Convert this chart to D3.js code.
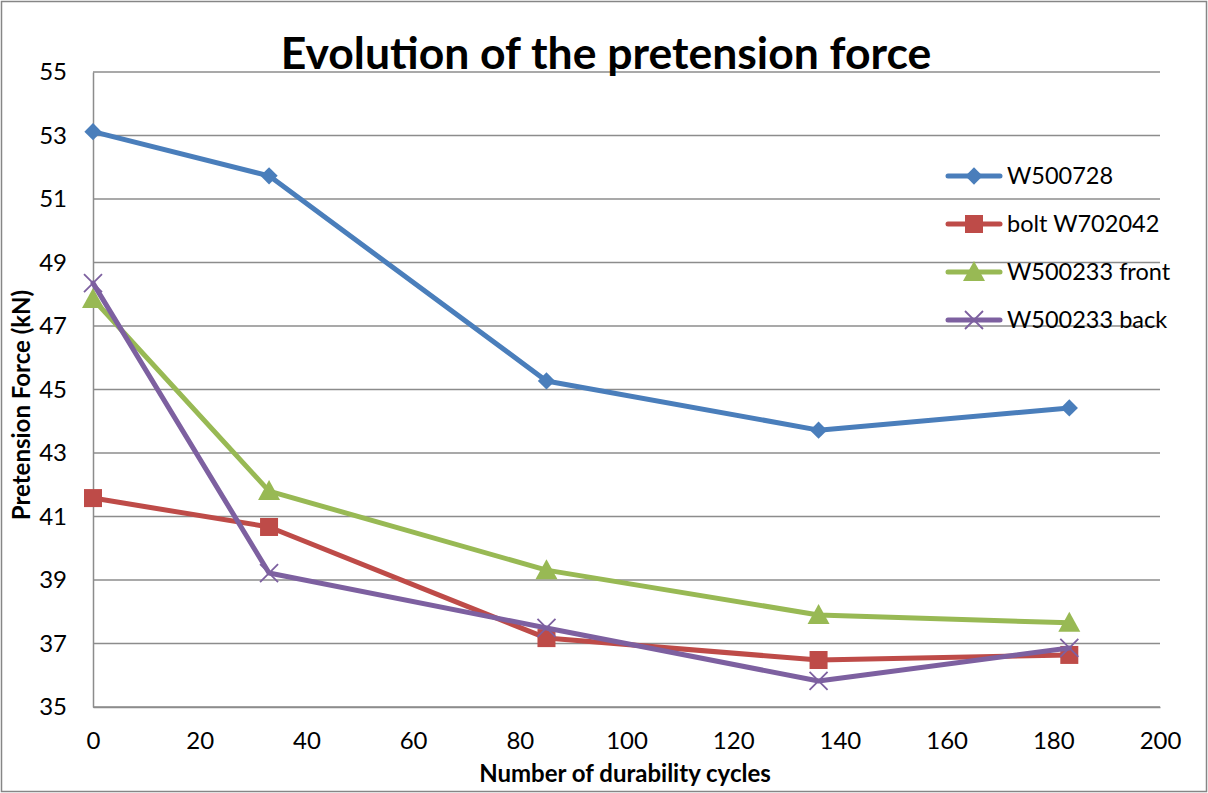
<!DOCTYPE html>
<html>
<head>
<meta charset="utf-8">
<script src="https://cdn.jsdelivr.net/npm/d3@7"></script>
<style>
  html, body { margin: 0; padding: 0; background: #fff; }
  svg { display: block; font-family: Lato, "Open Sans", sans-serif; }
</style>
</head>
<body>
<svg id="chart" width="1208" height="793"></svg>
<script>
// Durability test: pretension force after N cycles
const cycles = [0, 33, 85, 136, 183];
const seriesNames = ["W500728", "bolt W702042", "W500233 front", "W500233 back"];
const w500728 = [53.12, 51.73, 45.27, 43.72, 44.42];
const boltW702042 = [41.58, 40.67, 37.17, 36.48, 36.64];
const w500233Front = [47.85, 41.80, 39.31, 37.90, 37.65];
const w500233Back = [48.35, 39.22, 37.49, 35.82, 36.86];
const xTicks = [0, 20, 40, 60, 80, 100, 120, 140, 160, 180, 200];
const yTicks = [35, 37, 39, 41, 43, 45, 47, 49, 51, 53, 55];

const series = [
  { name: seriesNames[0], values: w500728, color: "#4A7EBB", marker: "diamond" },
  { name: seriesNames[1], values: boltW702042, color: "#BE4B48", marker: "square" },
  { name: seriesNames[2], values: w500233Front, color: "#98B954", marker: "triangle" },
  { name: seriesNames[3], values: w500233Back, color: "#7D60A0", marker: "cross" }
];

const svg = d3.select("#chart");
const W = 1208, H = 793;
const plot = { left: 93, right: 1160, top: 72, bottom: 707 };

// outer chart border
svg.append("rect").attr("x", 1.5).attr("y", 1.5).attr("width", W - 3).attr("height", H - 3)
  .attr("fill", "#fff").attr("stroke", "#868686").attr("stroke-width", 1.5);

const x = d3.scaleLinear().domain([0, 200]).range([plot.left, plot.right]);
const y = d3.scaleLinear().domain([35, 55]).range([plot.bottom, plot.top]);

// horizontal gridlines
svg.append("g").selectAll("line").data(yTicks).join("line")
  .attr("x1", plot.left).attr("x2", plot.right)
  .attr("y1", d => y(d)).attr("y2", d => y(d))
  .attr("stroke", "#8c8c8c").attr("stroke-width", 1.5);

// y axis
const yAxis = svg.append("g").attr("transform", `translate(${plot.left},0)`)
  .call(d3.axisLeft(y).tickValues(yTicks).tickSize(0).tickPadding(26));
yAxis.select(".domain").attr("stroke", "#8c8c8c").attr("stroke-width", 1.5);
yAxis.selectAll("text").attr("font-size", 24).attr("fill", "#000")
  .attr("font-family", "Lato, sans-serif");

// x axis
const xAxis = svg.append("g").attr("transform", `translate(0,${plot.bottom})`)
  .call(d3.axisBottom(x).tickValues(xTicks).tickSize(0).tickPadding(25));
xAxis.select(".domain").attr("stroke", "#8c8c8c").attr("stroke-width", 1.5);
xAxis.selectAll("text").attr("font-size", 24).attr("fill", "#000")
  .attr("font-family", "Lato, sans-serif");

// title and axis titles
svg.append("text").attr("x", 606).attr("y", 69).attr("text-anchor", "middle")
  .attr("font-size", 44.5).attr("font-weight", "bold").text("Evolution of the pretension force");
svg.append("text").attr("x", 625).attr("y", 782).attr("text-anchor", "middle")
  .attr("font-size", 24).attr("font-weight", "bold").text("Number of durability cycles");
svg.append("text").attr("transform", "translate(30,405) rotate(-90)").attr("text-anchor", "middle")
  .attr("font-size", 24).attr("font-weight", "bold").text("Pretension Force (kN)");

// marker drawing helper
function drawMarker(g, type, color, cx, cy) {
  if (type === "diamond") {
    g.append("path").attr("d", d3.symbol(d3.symbolDiamond2, 190)())
      .attr("transform", `translate(${cx},${cy})`).attr("fill", color);
  } else if (type === "square") {
    g.append("rect").attr("x", cx - 9).attr("y", cy - 9).attr("width", 18).attr("height", 18)
      .attr("fill", color);
  } else if (type === "triangle") {
    g.append("path").attr("d", `M${cx},${cy - 11}L${cx + 11},${cy + 9}L${cx - 11},${cy + 9}Z`)
      .attr("fill", color);
  } else {
    g.append("path").attr("d", `M${cx - 9},${cy - 9}L${cx + 9},${cy + 9}M${cx - 9},${cy + 9}L${cx + 9},${cy - 9}`)
      .attr("stroke", color).attr("stroke-width", 1.8).attr("fill", "none");
  }
}

const line = d3.line().x((d, i) => x(cycles[i])).y(d => y(d));

series.forEach(s => {
  const g = svg.append("g");
  g.append("path").datum(s.values).attr("d", line)
    .attr("fill", "none").attr("stroke", s.color).attr("stroke-width", 5)
    .attr("stroke-linejoin", "round").attr("stroke-linecap", "round");
  s.values.forEach((v, i) => drawMarker(g, s.marker, s.color, x(cycles[i]), y(v)));
});

// legend
const legendY = [176, 224, 272, 320];
series.forEach((s, i) => {
  const g = svg.append("g");
  const ly = legendY[i];
  g.append("line").attr("x1", 948).attr("x2", 1000).attr("y1", ly).attr("y2", ly)
    .attr("stroke", s.color).attr("stroke-width", 5).attr("stroke-linecap", "round");
  drawMarker(g, s.marker, s.color, 974, ly);
  g.append("text").attr("x", 1007).attr("y", ly + 8).attr("font-size", 23.5).text(s.name);
});
</script>
</body>
</html>
